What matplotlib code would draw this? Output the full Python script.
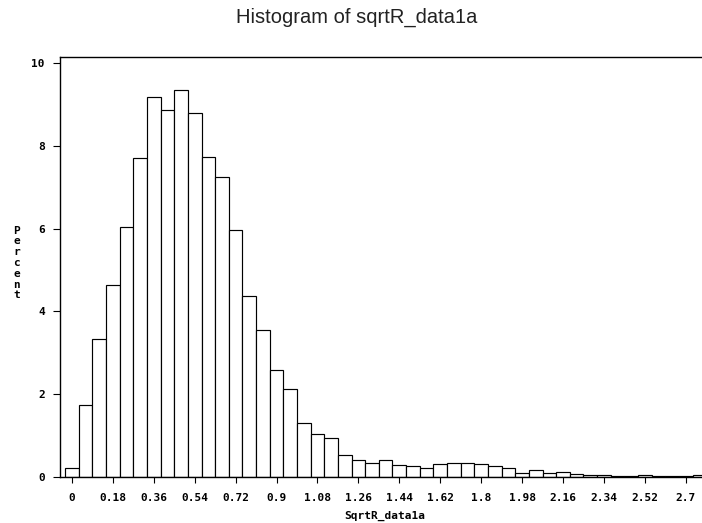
import matplotlib
matplotlib.use("Agg")
import matplotlib.pyplot as plt

# bin midpoints (width 0.06) and percent of observations in each bin
midpoints = [0.00, 0.06, 0.12, 0.18, 0.24, 0.30, 0.36, 0.42, 0.48, 0.54,
             0.60, 0.66, 0.72, 0.78, 0.84, 0.90, 0.96, 1.02, 1.08, 1.14,
             1.20, 1.26, 1.32, 1.38, 1.44, 1.50, 1.56, 1.62, 1.68, 1.74,
             1.80, 1.86, 1.92, 1.98, 2.04, 2.10, 2.16, 2.22, 2.28, 2.34,
             2.40, 2.46, 2.52, 2.58, 2.64, 2.70, 2.76]
percent = [0.20, 1.73, 3.32, 4.64, 6.05, 7.70, 9.18, 8.87, 9.35, 8.79,
           7.73, 7.24, 5.96, 4.37, 3.55, 2.58, 2.11, 1.29, 1.03, 0.93,
           0.53, 0.40, 0.34, 0.40, 0.28, 0.27, 0.22, 0.30, 0.34, 0.34,
           0.30, 0.26, 0.21, 0.10, 0.15, 0.08, 0.11, 0.07, 0.03, 0.03,
           0.02, 0.02, 0.03, 0.02, 0.01, 0.02, 0.05]
bin_width = 0.06

xtick_vals = [0, 0.18, 0.36, 0.54, 0.72, 0.9, 1.08, 1.26, 1.44, 1.62,
              1.8, 1.98, 2.16, 2.34, 2.52, 2.7]
xtick_labels = ["0", "0.18", "0.36", "0.54", "0.72", "0.9", "1.08", "1.26",
                "1.44", "1.62", "1.8", "1.98", "2.16", "2.34", "2.52", "2.7"]
ytick_vals = [0, 2, 4, 6, 8, 10]

W, H = 702, 523
fig = plt.figure(figsize=(W / 100, H / 100), dpi=100)

# axes frame: left edge at x=60px, right edge runs past the figure edge
left, right = 60, 710
bottom, top = 476.7, 57
ax = fig.add_axes([left / W, 1 - bottom / H, (right - left) / W, (bottom - top) / H])

ax.bar(midpoints, percent, width=bin_width, color="white",
       edgecolor="black", linewidth=0.85)

# 227.3 px per unit, 0 sits at x=72px
ax.set_xlim((left - 72) / 227.3, (right - 72) / 227.3)
ax.set_ylim(0, (bottom - top) / 41.34)

mono = dict(family="DejaVu Sans Mono", weight="bold", size=8)

ax.set_xticks(xtick_vals)
ax.set_xticklabels(xtick_labels, fontdict=mono)
ax.set_yticks(ytick_vals)
ax.set_yticklabels([str(v) for v in ytick_vals], fontdict=mono)
ax.tick_params(axis="x", direction="out", length=4, width=0.8, pad=8)
ax.tick_params(axis="y", direction="out", length=5, width=0.8, pad=6)

for side in ("left", "bottom", "top", "right"):
    ax.spines[side].set_linewidth(1.0)

fig.text(357 / W, 1 - 17 / H, "Histogram of sqrtR_data1a",
         family="Liberation Sans", size=14.5, color="#222222",
         ha="center", va="center")
fig.text(385 / W, 1 - 516 / H, "SqrtR_data1a", ha="center", va="center",
         **mono)
fig.text(16.5 / W, 1 - 263 / H, "\n".join("Percent"), ha="center",
         va="center", linespacing=1.1, **mono)

fig.savefig("out.png", dpi=100)
